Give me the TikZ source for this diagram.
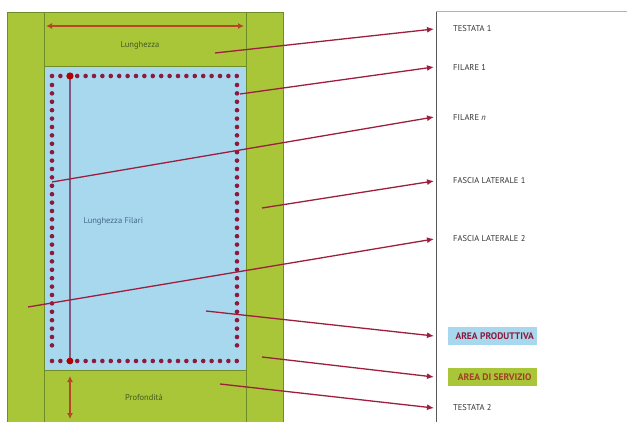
\documentclass[tikz,border=0pt]{standalone}
\usepackage{fontspec}
\setmainfont{PT Sans}
\usetikzlibrary{arrows.meta}
\definecolor{fgreen}{RGB}{168,198,56}
\definecolor{dgreen}{RGB}{110,140,40}
\definecolor{lblue}{RGB}{168,216,238}
\definecolor{dotred}{RGB}{140,26,60}
\definecolor{arrred}{RGB}{158,30,62}
\definecolor{brown}{RGB}{184,68,42}
\definecolor{purp}{RGB}{126,90,126}
\definecolor{txtgreen}{RGB}{70,90,30}
\definecolor{txtblue}{RGB}{70,105,140}
\tikzset{
  lab/.style={anchor=west, inner sep=0pt, font=\fontsize{8.5}{9}\selectfont, text=black!80},
  arealab/.style={anchor=west, inner sep=0pt, minimum width=89pt, minimum height=18pt, font=\bfseries\fontsize{9.5}{10}\selectfont},
  plantxt/.style={font=\fontsize{8.5}{9}\selectfont},
  conn/.style={draw=arrred, line width=1.3pt, -{Latex[length=7pt,width=6pt]}},
  dimarrow/.style={draw=brown, line width=2pt, {Latex[length=6pt,width=6pt]}-{Latex[length=6pt,width=6pt]}},
  dotline/.style={draw=dotred, line width=4.6pt, line cap=round, dash pattern=on 0pt off 8.4pt},
}
\begin{document}
\begin{tikzpicture}[x=1pt,y=-1pt]
\useasboundingbox (0,0) rectangle (627,422);
% plan
\fill[fgreen] (7,12) rectangle (283,422);
\draw[dgreen, line width=0.6pt] (7,422) -- (7,12) -- (283,12) -- (283,422);
\draw[dgreen, line width=0.8pt] (44,12) -- (44,422) (246,12) -- (246,422);
\fill[lblue] (44,66) rectangle (246,370);
\draw[dgreen, line width=0.6pt] (44,66) rectangle (246,370);
% dotted perimeter
\draw[dotline] (52,76) -- (237,76);
\draw[dotline] (52,361) -- (237,361);
\draw[dotline] (52,85) -- (52,352);
\draw[dotline] (237,85) -- (237,352);
% filari length
\coordinate (fa) at (70,76);
\coordinate (fb) at (70,361);
\draw[purp, line width=1.4pt] (fa) -- (fb);
\fill[red!70!black] (fa) circle (3.6pt) (fb) circle (3.4pt);
% dimension arrows
\coordinate (la) at (46,26);
\coordinate (lb) at (244,26);
\draw[dimarrow] (la) -- (lb);
\coordinate (pa) at (70,376);
\coordinate (pb) at (70,419);
\draw[dimarrow] (pa) -- (pb);
% texts in plan
\node[plantxt, text=txtgreen] (tl) at (140,45) {Lunghezza};
\node[plantxt, text=txtblue, anchor=west] (tf) at (80,221) {Lunghezza Filari};
\node[plantxt, text=txtgreen] (tp) at (144,397) {Profondità};
% right panel
\draw[gray!60, line width=1pt] (436,12) -- (627,12);
\draw[black!65, line width=0.8pt] (436,12) -- (436,422);
\coordinate (edge) at (434,0);
% labels
\node[lab] (t1) at (453,29) {TESTATA 1};
\node[lab] (f1) at (453,67) {FILARE 1};
\node[lab] (fn) at (453,117) {FILARE \textit{n}};
\node[lab] (fl1) at (453,181) {FASCIA LATERALE 1};
\node[lab] (fl2) at (453,239) {FASCIA LATERALE 2};
\node[arealab, fill=lblue, text=dotred] (ap) at (448,336) {\hspace{4pt}AREA PRODUTTIVA};
\node[arealab, fill=fgreen, text=brown!90!black] (as) at (448,377) {\hspace{4pt}AREA DI SERVIZIO};
\node[lab] (t2) at (453,408) {TESTATA 2};
% start points
\coordinate (s1) at (215,53);
\coordinate (s2) at (240,94);
\coordinate (s3) at (52,182);
\coordinate (s4) at (262,208);
\coordinate (s5) at (28,307);
\coordinate (s6) at (206,311);
\coordinate (s7) at (262,357);
\coordinate (s8) at (220,384);
% connectors
\draw[conn] (s1) -- (t1.west -| edge);
\draw[conn] (s2) -- (f1.west -| edge);
\draw[conn] (s3) -- (fn.west -| edge);
\draw[conn] (s4) -- (fl1.west -| edge);
\draw[conn] (s5) -- (fl2.west -| edge);
\draw[conn] (s6) -- (ap.west -| edge);
\draw[conn] (s7) -- (as.west -| edge);
\draw[conn] (s8) -- (t2.west -| edge);
\end{tikzpicture}
\end{document}
